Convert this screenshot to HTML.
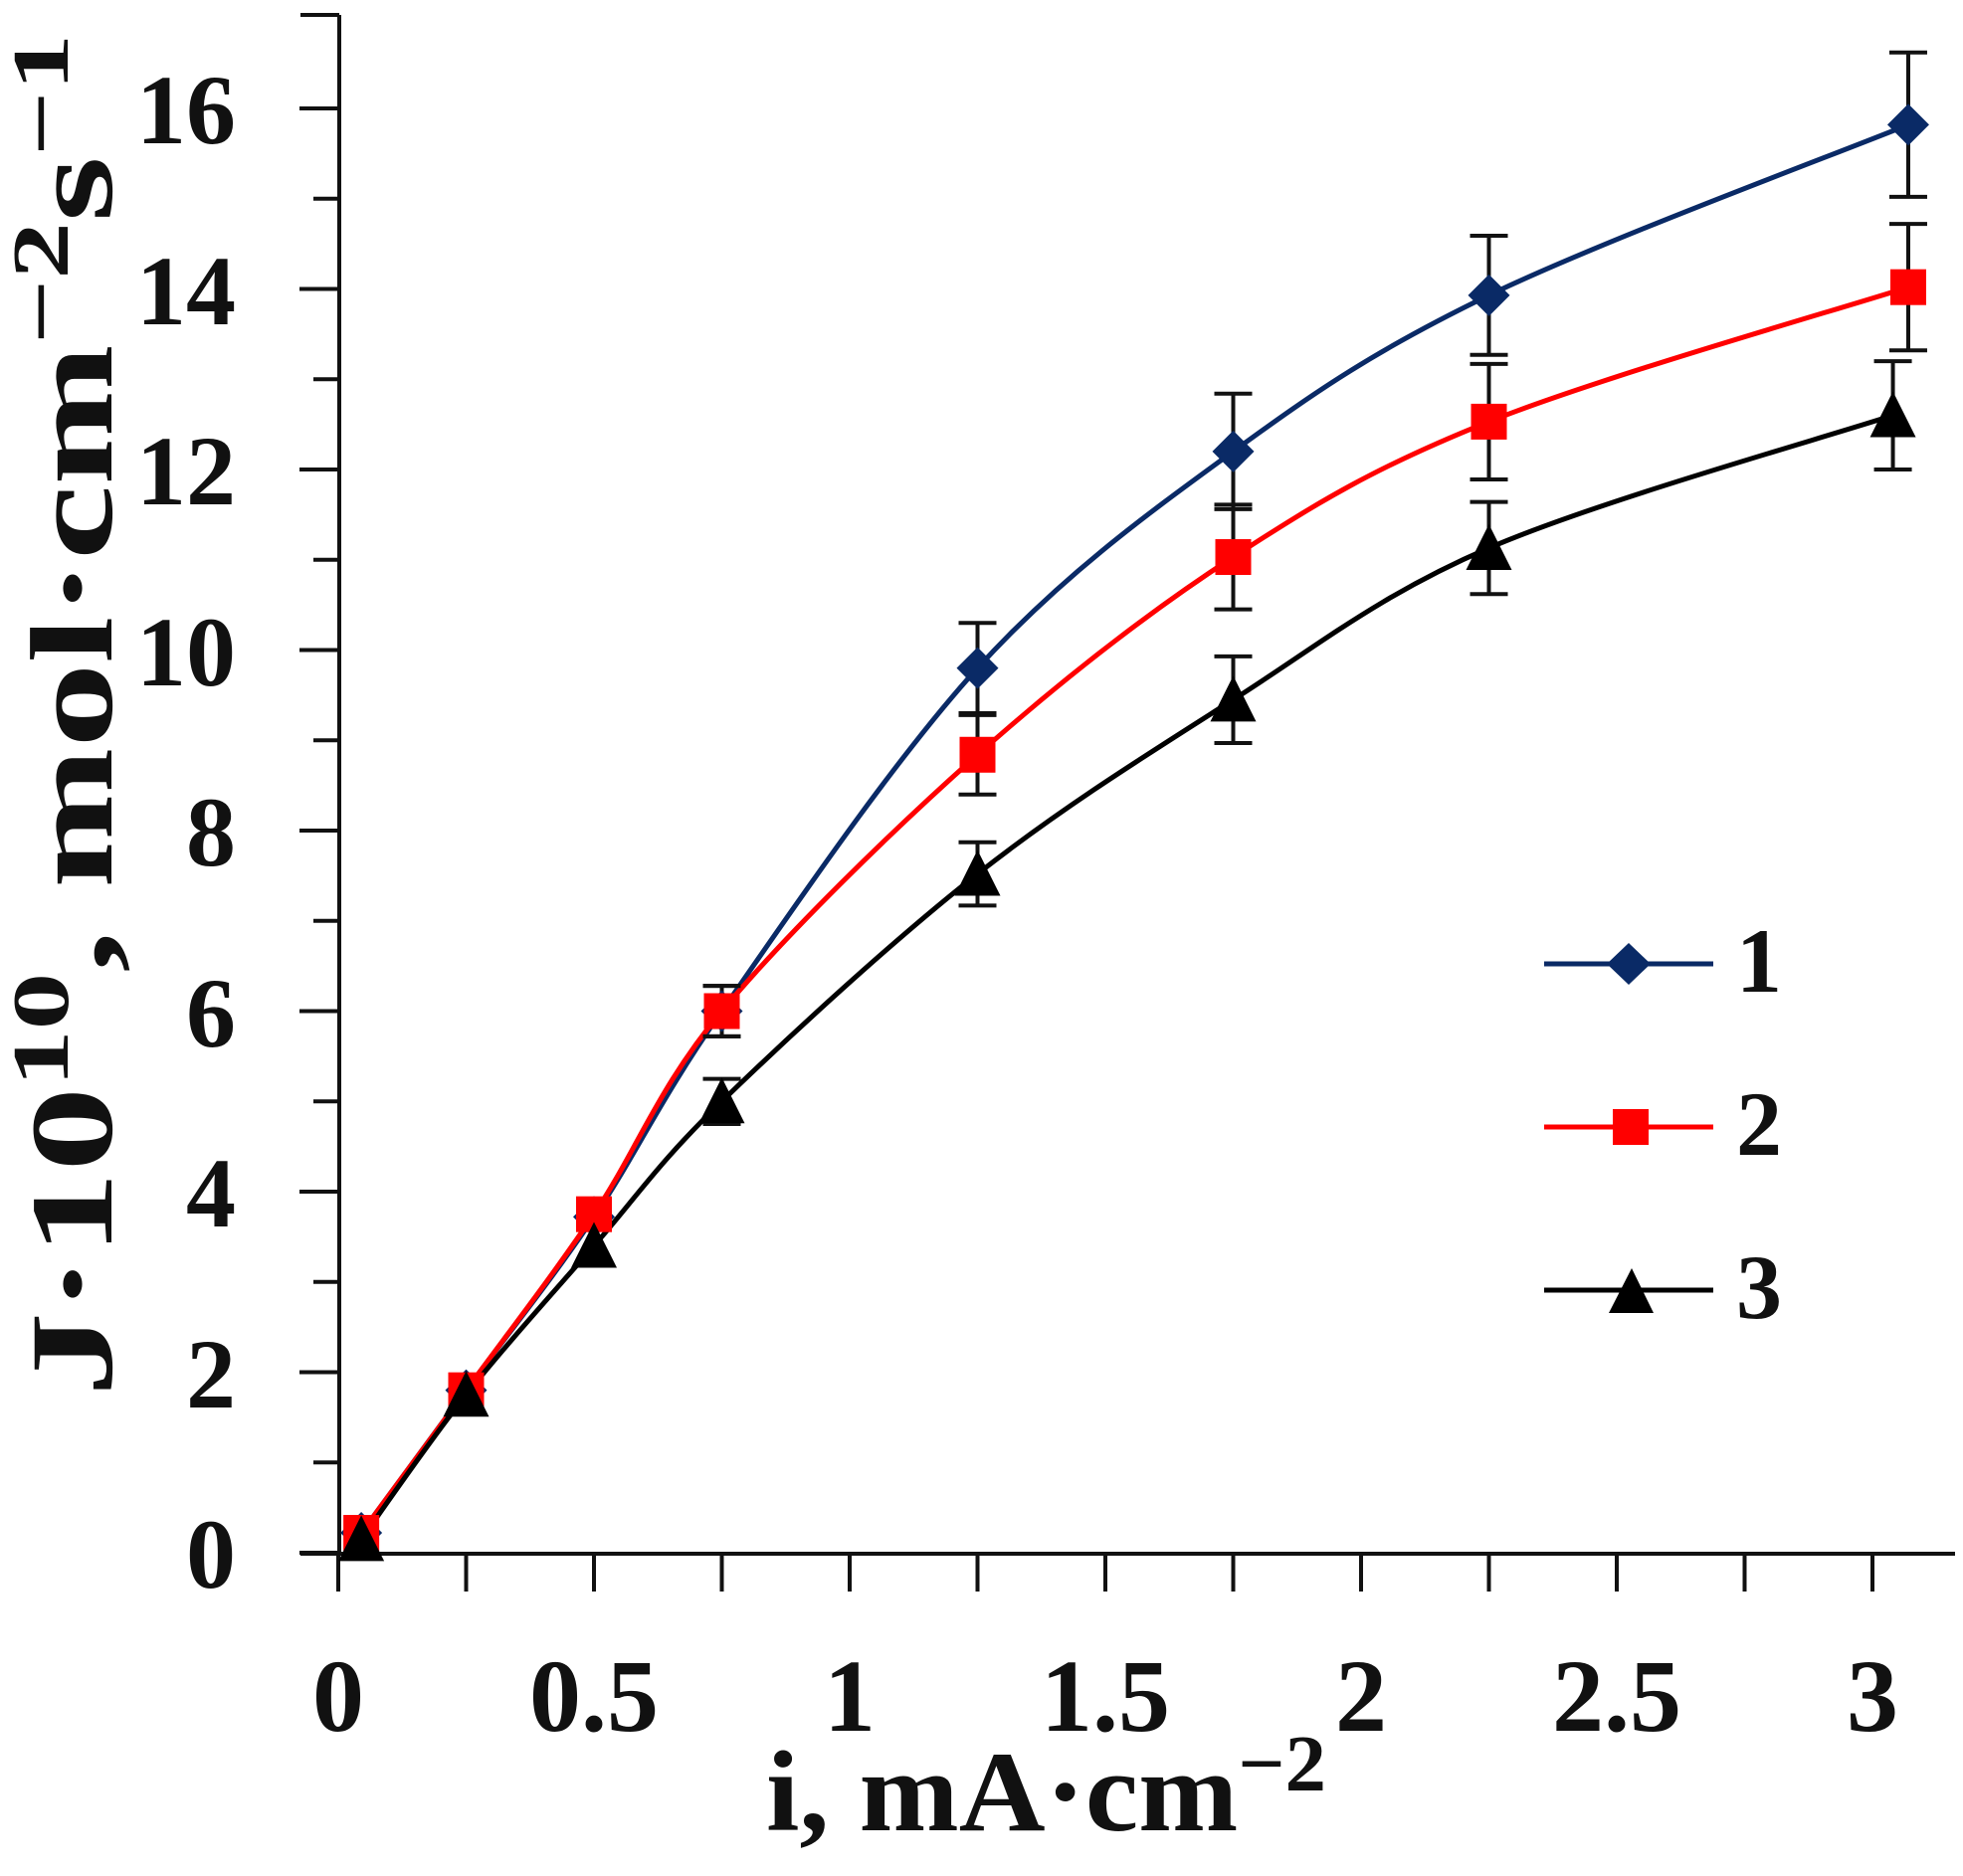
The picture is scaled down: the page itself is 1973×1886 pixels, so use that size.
<!DOCTYPE html>
<html><head><meta charset="utf-8"><style>html,body{margin:0;padding:0;background:#fff}svg{display:block}</style></head>
<body>
<svg id="s" width="1973" height="1886" viewBox="0 0 1973 1886" xmlns="http://www.w3.org/2000/svg" font-family="'Liberation Serif',serif" font-weight="bold">
<rect width="1973" height="1886" fill="#fff"/>
<g id="axes" stroke="#111" stroke-width="4"></g>
<g font-size="100" text-anchor="end" fill="#111">
<text x="237" y="1596">0</text><text x="237" y="1415">2</text><text x="237" y="1233">4</text><text x="237" y="1052">6</text><text x="237" y="870">8</text><text x="237" y="689">10</text><text x="237" y="507">12</text><text x="237" y="326">14</text><text x="237" y="144">16</text>
</g>
<g font-size="104" text-anchor="middle" fill="#111">
<text x="340" y="1740">0</text><text x="597" y="1740">0.5</text><text x="854" y="1740">1</text><text x="1111" y="1740">1.5</text><text x="1368" y="1740">2</text><text x="1625" y="1740">2.5</text><text x="1882" y="1740">3</text>
</g>
<text x="770" y="1840" font-size="116" fill="#111" textLength="563" lengthAdjust="spacingAndGlyphs">i, mA·cm<tspan dy="-40" font-size="80">−2</tspan></text>
<text transform="translate(112,1404) rotate(-90)" font-size="118" fill="#111" textLength="1370" lengthAdjust="spacingAndGlyphs">J·10<tspan dy="-44" font-size="80">10</tspan><tspan dy="44">, mol·cm</tspan><tspan dy="-44" font-size="80">−2</tspan><tspan dy="44">s</tspan><tspan dy="-44" font-size="80">−1</tspan></text>
<g id="data"></g>
<g font-size="92" fill="#111">
<line x1="1552" y1="969" x2="1722" y2="969" stroke="#0a2a66" stroke-width="5"/>
<polygon points="1637,948 1659,969 1637,990 1615,969" fill="#0a2a66"/>
<text x="1745" y="997">1</text>
<line x1="1552" y1="1133" x2="1722" y2="1133" stroke="#ff0000" stroke-width="5"/>
<rect x="1621" y="1115" width="36" height="36" fill="#ff0000"/>
<text x="1745" y="1161">2</text>
<line x1="1552" y1="1297" x2="1722" y2="1297" stroke="#000" stroke-width="5"/>
<polygon points="1640,1275 1662,1320 1617,1320" fill="#000"/>
<text x="1745" y="1325">3</text>
</g>
</svg>
<script>
var NS="http://www.w3.org/2000/svg";
function X(v){return 340+v*514;}
function Y(v){return 1561-v*90.75;}
function el(p,t,a){var e=document.createElementNS(NS,t);for(var k in a)e.setAttribute(k,a[k]);p.appendChild(e);return e;}
var ax=document.getElementById('axes');
el(ax,'line',{x1:341,y1:15,x2:341,y2:1563});
el(ax,'line',{x1:302,y1:15,x2:341,y2:15});
el(ax,'line',{x1:302,y1:1562,x2:1965,y2:1562});
for(var i=0;i<=16;i++){var y=Y(i);el(ax,'line',{x1:(i%2==0?301:315),y1:y,x2:341,y2:y});}
for(var j=0;j<=12;j++){var x=X(j*0.25);el(ax,'line',{x1:x,y1:1562,x2:x,y2:1600});}
var xs=[0.045,0.25,0.5,0.75,1.25,1.75,2.25,3.07];
var S=[
 {c:'#0a2a66',m:'d',y:[0.22,1.8,3.72,6.0,9.8,12.2,13.93,15.82],e:[0,0,0,0.28,0.5,0.64,0.66,0.8]},
 {c:'#ff0000',m:'s',y:[0.22,1.8,3.75,6.0,8.84,11.03,12.53,14.02],e:[0,0,0,0.28,0.44,0.58,0.64,0.7]},
 {c:'#000000',m:'t',y:[0.15,1.75,3.4,5.0,7.52,9.45,11.13,12.6],e:[0,0,0,0.25,0.35,0.48,0.51,0.6]}
];
var d=document.getElementById('data');
S.forEach(function(s,si){
 var xx=xs.slice(); if(si==2) xx[7]=3.04;
 var P=xx.map(function(v,k){return [X(v),Y(s.y[k])];});
 var p='M'+P[0][0]+','+P[0][1];
 for(var k=0;k<P.length-1;k++){var p0=P[Math.max(k-1,0)],p1=P[k],p2=P[k+1],p3=P[Math.min(k+2,P.length-1)];
  var c1=[p1[0]+(p2[0]-p0[0])/6,p1[1]+(p2[1]-p0[1])/6],c2=[p2[0]-(p3[0]-p1[0])/6,p2[1]-(p3[1]-p1[1])/6];
  p+=' C'+c1+' '+c2+' '+p2;}
 el(d,'path',{d:p,fill:'none',stroke:s.c,'stroke-width':5});
 s.err=P;
});
S.forEach(function(s){
 s.err.forEach(function(q,k){var e=s.e[k];if(!e)return;var h=e*90.75;
  el(d,'line',{x1:q[0],y1:q[1]-h,x2:q[0],y2:q[1]+h,stroke:'#111','stroke-width':4});
  el(d,'line',{x1:q[0]-19,y1:q[1]-h,x2:q[0]+19,y2:q[1]-h,stroke:'#111','stroke-width':4});
  el(d,'line',{x1:q[0]-19,y1:q[1]+h,x2:q[0]+19,y2:q[1]+h,stroke:'#111','stroke-width':4});});
});
S.forEach(function(s){
 s.err.forEach(function(q){var x=q[0],y=q[1];
  if(s.m=='d')el(d,'polygon',{points:[x,y-21,x+21,y,x,y+21,x-21,y].join(','),fill:s.c});
  else if(s.m=='s')el(d,'rect',{x:x-18,y:y-18,width:36,height:36,fill:s.c});
  else el(d,'polygon',{points:[x,y-24,x+23,y+22,x-23,y+22].join(','),fill:s.c});});
});
</script>
</body></html>
